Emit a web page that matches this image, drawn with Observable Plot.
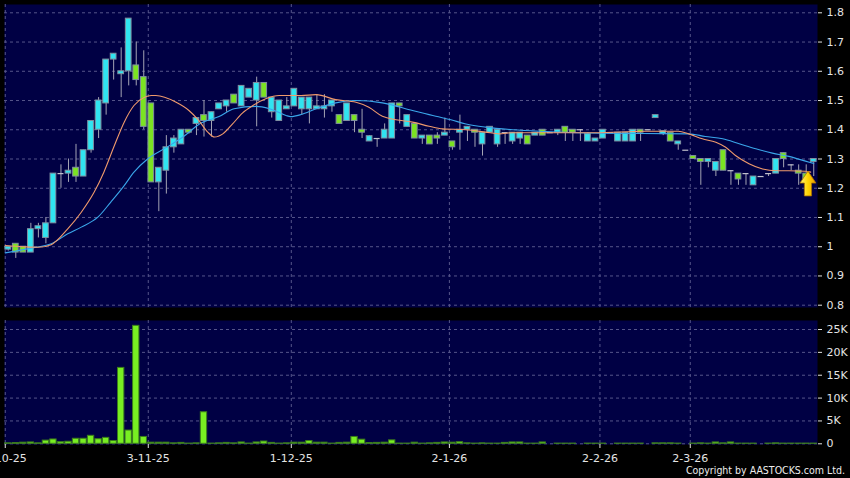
<!DOCTYPE html>
<html><head><meta charset="utf-8">
<script src="https://cdn.jsdelivr.net/npm/d3@7"></script>
<script src="https://cdn.jsdelivr.net/npm/@observablehq/plot@0.6"></script>
<style>
html,body{margin:0;padding:0;background:#000;}
#chart{position:relative;width:850px;height:478px;background:#000;overflow:hidden;font-family:"DejaVu Sans",sans-serif;}
#price{position:absolute;left:0;top:0;}
#vol{position:absolute;left:0;top:312px;}
#copy{position:absolute;right:5px;top:463px;line-height:14px;color:#ececec;font-family:"DejaVu Sans Condensed","DejaVu Sans",sans-serif;font-size:10.5px;font-stretch:condensed;}
</style></head><body>
<div id="chart"><div id="price"></div><div id="vol"></div><div id="copy">Copyright by AASTOCKS.com Ltd.</div></div>
<script>
// ---- data ----
const monthLabels = ["2-10-25","3-11-25","1-12-25","2-1-26","2-2-26","2-3-26"];
const monthStartIdx = [0,19,38,59,79,91];
const priceTicks = [0.8,0.9,1.0,1.1,1.2,1.3,1.4,1.5,1.6,1.7,1.8];
const volTicks = [0,5,10,15,20,25];

const open = [0.99,1.01,1.00,0.98,1.06,1.03,1.08,1.25,1.25,1.27,
  1.24,1.33,1.40,1.49,1.64,1.59,1.60,1.62,1.58,1.49,
  1.22,1.26,1.34,1.35,1.40,1.42,1.45,1.43,1.47,1.48,
  1.52,1.48,1.51,1.50,1.56,1.46,1.43,1.47,1.48,1.47,
  1.47,1.47,1.47,1.48,1.45,1.43,1.45,1.40,1.36,1.37,
  1.37,1.37,1.49,1.41,1.42,1.37,1.38,1.38,1.38,1.36,
  1.39,1.40,1.40,1.35,1.39,1.35,1.39,1.36,1.37,1.38,
  1.38,1.40,1.39,1.39,1.41,1.40,1.40,1.36,1.36,1.37,
  1.39,1.36,1.36,1.36,1.40,1.40,1.44,1.385,1.39,1.35,
  1.33,1.31,1.30,1.29,1.26,1.33,1.26,1.25,1.25,1.21,
  1.24,1.25,1.25,1.32,1.28,1.26,1.25,1.29];
const high = [1.00,1.01,1.00,1.08,1.08,1.10,1.25,1.28,1.30,1.35,
  1.33,1.43,1.51,1.64,1.66,1.68,1.78,1.70,1.67,1.49,
  1.27,1.38,1.38,1.40,1.40,1.44,1.50,1.46,1.49,1.50,
  1.52,1.55,1.54,1.58,1.56,1.51,1.50,1.51,1.54,1.51,
  1.51,1.52,1.52,1.50,1.45,1.49,1.45,1.47,1.38,1.37,
  1.42,1.49,1.49,1.45,1.42,1.38,1.38,1.39,1.44,1.36,
  1.45,1.41,1.40,1.39,1.41,1.40,1.39,1.39,1.39,1.38,
  1.39,1.40,1.39,1.40,1.41,1.40,1.40,1.39,1.37,1.40,
  1.39,1.39,1.39,1.40,1.40,1.40,1.45,1.395,1.39,1.36,
  1.33,1.31,1.30,1.30,1.29,1.33,1.26,1.25,1.25,1.24,
  1.24,1.25,1.30,1.32,1.28,1.28,1.28,1.30];
const low = [0.985,0.96,0.98,0.98,1.03,1.01,1.08,1.20,1.22,1.22,
  1.24,1.32,1.37,1.45,1.57,1.51,1.55,1.55,1.40,1.22,
  1.12,1.18,1.32,1.35,1.385,1.38,1.375,1.375,1.47,1.46,
  1.49,1.48,1.51,1.41,1.51,1.44,1.43,1.47,1.48,1.45,
  1.42,1.47,1.44,1.46,1.42,1.43,1.39,1.37,1.36,1.34,
  1.37,1.37,1.42,1.41,1.37,1.35,1.35,1.35,1.38,1.33,
  1.33,1.36,1.34,1.31,1.39,1.34,1.35,1.35,1.35,1.35,
  1.38,1.38,1.39,1.38,1.36,1.36,1.36,1.36,1.36,1.37,
  1.39,1.36,1.36,1.36,1.36,1.40,1.44,1.38,1.36,1.33,
  1.33,1.30,1.21,1.27,1.24,1.26,1.21,1.21,1.21,1.21,
  1.24,1.24,1.25,1.27,1.26,1.21,1.23,1.24];
const close = [1.00,0.98,0.98,1.06,1.07,1.08,1.25,1.25,1.26,1.24,
  1.33,1.43,1.50,1.64,1.66,1.60,1.78,1.57,1.41,1.22,
  1.27,1.34,1.37,1.40,1.39,1.44,1.43,1.46,1.49,1.50,
  1.49,1.55,1.54,1.56,1.51,1.51,1.50,1.48,1.54,1.51,
  1.51,1.48,1.48,1.50,1.42,1.49,1.43,1.39,1.378,1.37,
  1.40,1.49,1.48,1.45,1.37,1.38,1.35,1.37,1.39,1.34,
  1.40,1.41,1.39,1.39,1.41,1.40,1.39,1.39,1.39,1.35,
  1.39,1.38,1.39,1.40,1.39,1.39,1.40,1.385,1.37,1.40,
  1.39,1.39,1.39,1.40,1.39,1.40,1.45,1.395,1.36,1.36,
  1.33,1.30,1.29,1.30,1.29,1.26,1.26,1.23,1.25,1.24,
  1.24,1.25,1.30,1.30,1.28,1.25,1.23,1.30];
// volume in thousands of shares
const volumeK = [0.1,0.15,0.25,0.3,0.1,0.7,0.95,0.35,0.45,1.1,
  1.1,1.75,1.0,1.3,0.6,16.6,2.9,25.8,1.5,0.25,
  0.25,0.25,0.1,0.2,0.05,0.1,6.9,0.05,0.1,0.2,
  0.1,0.3,0.05,0.3,0.5,0.2,0.05,0.1,0.25,0.25,
  0.6,0.25,0.25,0.05,0.2,0.25,1.5,0.9,0.15,0.2,
  0.25,0.75,0.05,0.05,0.25,0.05,0.1,0.2,0.3,0.25,
  0.35,0.1,0.05,0.1,0.05,0.05,0.2,0.3,0.3,0.05,
  0.05,0.3,0,0.05,0.05,0.05,0,0.05,0.05,0.05,
  0,0.05,0.05,0.05,0.05,0,0.1,0.1,0.1,0.05,
  0,0.05,0.1,0.05,0.3,0.1,0.3,0.05,0.05,0.05,
  0,0.05,0.1,0.05,0.05,0.05,0.05,0.05];

// moving-average lines (x in candle index units)
const maFastIdx = [-0.4,2,4,5.7,7.9,9.7,11.4,12.7,14.1,15.4,16.7,18.1,19,19.6,22.3,24,25.3,26.5,27.4,28.5,29.8,31.1,32.5,34.2,36,38.9,40.9,43.5,46.2,47.9,49.7,51.5,53.7,55.9,57.7,60.8,63.4,65.2,67,70.1,78,84.7,89,90.4,92.2,94,95.3,96.6,98.4,100.2,102,103.7,105.9,106.6];
const maFastVal = [1.004,1.0,0.998,1.007,1.061,1.118,1.186,1.255,1.346,1.426,1.483,1.511,1.517,1.517,1.494,1.466,1.432,1.392,1.375,1.386,1.42,1.457,1.483,1.506,1.517,1.517,1.52,1.503,1.494,1.477,1.446,1.434,1.426,1.412,1.403,1.40,1.392,1.386,1.39,1.39,1.39,1.395,1.395,1.386,1.369,1.357,1.34,1.312,1.284,1.266,1.26,1.26,1.258,1.255];
const maSlowIdx = [-0.4,3.4,5.7,7.9,9.7,11.9,13.6,15.4,16.7,18.5,20.9,23.2,25.4,28,30,32.9,34.7,36.9,37.5,38.9,40.9,43.5,46.2,49.7,53.7,56.8,58.8,60.8,63.4,67,71.4,78.7,90.4,92.6,94.9,97.1,99.3,101.5,103.7,106.4,107];
const maSlowVal = [0.979,0.997,1.01,1.044,1.067,1.101,1.152,1.209,1.255,1.30,1.338,1.375,1.42,1.445,1.472,1.48,1.472,1.449,1.445,1.452,1.472,1.492,1.50,1.492,1.466,1.446,1.434,1.42,1.409,1.40,1.394,1.388,1.386,1.377,1.369,1.352,1.335,1.32,1.309,1.289,1.285];

const arrowAt = {i: 106.3, top: 1.257, bottom: 1.172};

// ---- build ----
const N = open.length;
const candles = d3.range(N).map(i => ({i, o: open[i], h: high[i], l: low[i], c: close[i], v: volumeK[i]}));
const bodies = candles.filter(d => d.o !== d.c);
const flats = candles.filter(d => d.o === d.c);
const fast = maFastIdx.map((x, k) => ({x, y: maFastVal[k]}));
const slow = maSlowIdx.map((x, k) => ({x, y: maSlowVal[k]}));
const gridPos = monthStartIdx.map(i => i - 0.4);
const labelOf = new Map(gridPos.map((p, k) => [p, monthLabels[k]]));

const bg = "#000044", grid = "#55558a", txt = "#e4e4e4";
const upC = "#30e4f0", downC = "#7be322", edge = "#7f8fa0", wick = "#a4a4b4";
const xDomain = [-0.5, N - 0.5];
const baseStyle = {background: "transparent", fontFamily: "DejaVu Sans, sans-serif", fontSize: "11px", color: txt};

function arrowMark(index, scales) {
  const x = scales.x(arrowAt.i), yt = scales.y(arrowAt.top), yb = scales.y(arrowAt.bottom);
  const hw = 8, sw = 3.6, hh = 12;
  const g = d3.create("svg:g");
  const grad = g.append("defs").append("linearGradient").attr("id", "arrowGrad")
    .attr("x1", "0").attr("x2", "1").attr("y1", "0").attr("y2", "0");
  grad.append("stop").attr("offset", "0").attr("stop-color", "#fff37a");
  grad.append("stop").attr("offset", "0.5").attr("stop-color", "#ffd400");
  grad.append("stop").attr("offset", "1").attr("stop-color", "#e89a00");
  g.append("path")
    .attr("d", `M${x},${yt} L${x + hw},${yt + hh} L${x + sw},${yt + hh} L${x + sw},${yb} L${x - sw},${yb} L${x - sw},${yt + hh} L${x - hw},${yt + hh} Z`)
    .attr("fill", "url(#arrowGrad)").attr("stroke", "#a86f00").attr("stroke-width", 0.8);
  return g.node();
}

const price = Plot.plot({
  width: 850, height: 312,
  marginLeft: 4, marginRight: 33, marginTop: 4, marginBottom: 5,
  style: baseStyle,
  x: {domain: xDomain, axis: null, label: null},
  y: {domain: [0.8, 1.8], range: [304.7, 12.3], axis: null, label: null},
  marks: [
    Plot.frame({fill: bg, stroke: "none"}),
    Plot.ruleY(priceTicks, {stroke: grid, strokeDasharray: "3,3"}),
    Plot.ruleX(gridPos, {stroke: grid, strokeDasharray: "3,3"}),
    Plot.ruleX(candles, {x: "i", y1: "l", y2: "h", stroke: wick}),
    Plot.rect(bodies, {x1: d => d.i - 0.38, x2: d => d.i + 0.38, y1: "o", y2: "c",
      fill: d => d.c > d.o ? upC : downC, stroke: edge, strokeWidth: 1}),
    Plot.ruleY(flats, {x1: d => d.i - 0.4, x2: d => d.i + 0.4, y: "c", stroke: "#c0c0cc", strokeWidth: 1.2}),
    Plot.line(slow, {x: "x", y: "y", stroke: "#3aa6ea", strokeWidth: 1.1, curve: "monotone-x"}),
    Plot.line(fast, {x: "x", y: "y", stroke: "#f09a6c", strokeWidth: 1.1, curve: "monotone-x"}),
    arrowMark,
    Plot.axisY({anchor: "right", ticks: priceTicks, tickFormat: d3.format("~g"), tickSize: 4, tickPadding: 5, color: txt, label: null})
  ]
});

const vol = Plot.plot({
  width: 850, height: 166,
  marginLeft: 4, marginRight: 33, marginTop: 8, marginBottom: 34,
  style: baseStyle,
  x: {domain: xDomain, axis: null, label: null},
  y: {domain: [0, 25], range: [131.3, 17], axis: null, label: null},
  marks: [
    Plot.frame({fill: bg, stroke: "none"}),
    Plot.ruleY(volTicks, {stroke: grid, strokeDasharray: "3,3"}),
    Plot.ruleX(gridPos, {stroke: grid, strokeDasharray: "3,3"}),
    Plot.rect(candles.filter(d => d.v > 0), {x1: d => d.i - 0.42, x2: d => d.i + 0.42, y1: 0, y2: "v",
      fill: "#78ee22", stroke: "#3c7e1c", strokeWidth: 1}),
    Plot.axisY({anchor: "right", ticks: volTicks, tickFormat: d => d === 0 ? "0" : d + "K", tickSize: 4, tickPadding: 5, color: txt, label: null}),
    Plot.axisX({ticks: gridPos, tickFormat: d => labelOf.get(d), tickSize: 4, tickPadding: 6, color: txt, label: null})
  ]
});

document.getElementById("price").appendChild(price);
document.getElementById("vol").appendChild(vol);
</script>
</body></html>
